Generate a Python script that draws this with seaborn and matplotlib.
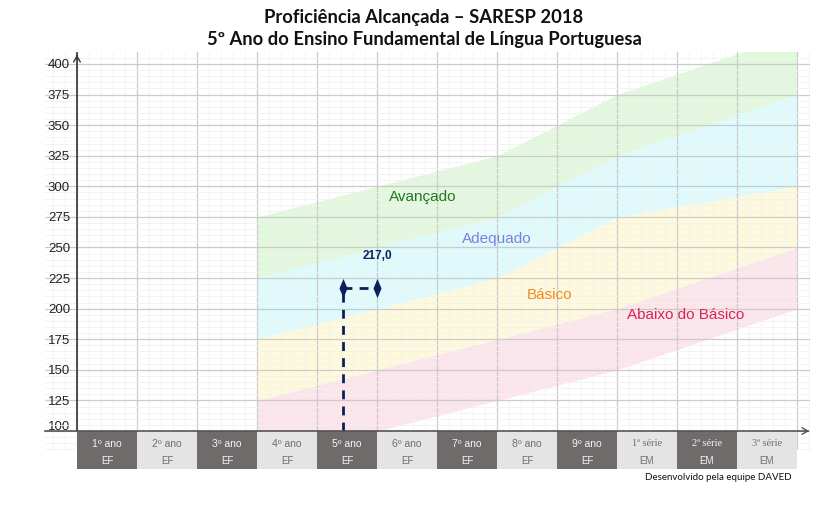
import matplotlib
matplotlib.use("Agg")
import matplotlib.pyplot as plt
import seaborn as sns
import numpy as np
import pandas as pd
from matplotlib.path import Path
from matplotlib.ticker import MultipleLocator
from matplotlib.transforms import ScaledTranslation

# ---------------- data ----------------
categories = ["1º ano", "2º ano", "3º ano", "4º ano", "5º ano", "6º ano",
              "7º ano", "8º ano", "9º ano", "1ª série", "2ª série", "3ª série"]
stages = ["EF"] * 9 + ["EM"] * 3
band_x = [3, 5, 7, 9, 12]
abaixo_min = [75, 100, 125, 150, 200]
basico_min = [125, 150, 175, 200, 250]
adequado_min = [175, 200, 225, 275, 300]
avancado_min = [225, 250, 275, 325, 375]
avancado_max = [275, 300, 325, 375, 425]
band_names = ["Abaixo do Básico", "Básico", "Adequado", "Avançado"]
score_value = 217.0
score_x = [4.43, 5.0]
y_ticks = list(range(100, 401, 25))
title_lines = ["Proficiência Alcançada – SARESP 2018",
               "5º Ano do Ensino Fundamental de Língua Portuguesa"]
footer = "Desenvolvido pela equipe DAVED"

# ---------------- style ----------------
sns.set_theme(style="white")
plt.rcParams["font.family"] = ["Liberation Sans", "DejaVu Sans"]

fig = plt.figure(figsize=(8.23, 5.05), dpi=100)
ax = fig.add_axes([45 / 823, 1 - 450 / 505, (810 - 45) / 823, (450 - 52) / 505])

ax.set_xlim(-0.533, 12.217)
ax.set_ylim(84.47, 409.8)

# grid
ax.xaxis.set_major_locator(MultipleLocator(1))
ax.xaxis.set_minor_locator(MultipleLocator(0.2))
ax.set_yticks(y_ticks)
ax.yaxis.set_minor_locator(MultipleLocator(5))
ax.grid(which="major", color="#cbcbcb", lw=0.9)
ax.grid(which="minor", color="#f1f1f1", lw=0.6)
ax.set_axisbelow("line")

# bands
band_colors = ["#fde3ea", "#fff9dc", "#ddfbfd", "#e1f8dc"]
lowers = [abaixo_min, basico_min, adequado_min, avancado_min]
uppers = [basico_min, adequado_min, avancado_min, avancado_max]
for lo, up, c in zip(lowers, uppers, band_colors):
    ax.fill_between(band_x, lo, up, color=c, lw=0, zorder=1)

# band labels
label_specs = [
    ("Avançado", 5.77, 291.5, "#1f7a1f"),
    ("Adequado", 7.0, 257.0, "#7b80e0"),
    ("Básico", 7.87, 211.2, "#f28a1c"),
    ("Abaixo do Básico", 10.15, 195.0, "#d6245a"),
]
for txt, lx, ly, c in label_specs:
    ax.text(lx, ly, txt, color=c, fontsize=11, ha="center", va="center", zorder=4)

# spines / axes
for s in ["top", "right"]:
    ax.spines[s].set_visible(False)
ax.spines["left"].set_position(("data", 0))
ax.spines["left"].set_bounds(100, 409.3)
ax.spines["left"].set_color("#333333")
ax.spines["left"].set_linewidth(1.2)
ax.spines["bottom"].set_position(("data", 100))
ax.spines["bottom"].set_bounds(-0.533, 12.18)
ax.spines["bottom"].set_color("#555555")
ax.spines["bottom"].set_linewidth(1.2)
ax.spines["left"].set_zorder(5)
ax.spines["bottom"].set_zorder(5)
ax.tick_params(axis="y", length=0, pad=5, labelsize=9.5, labelcolor="#222222")
ax.tick_params(axis="x", length=0, labelbottom=False)
ax.tick_params(which="minor", length=0)
# lift the "100" label above the baseline, as in the reference
t0 = ax.yaxis.get_major_ticks()[0]
t0.label1.set_transform(t0.label1.get_transform()
                        + ScaledTranslation(0, 6 / 100, fig.dpi_scale_trans))

ax.annotate("", xy=(0, 409.8), xytext=(0, 404), annotation_clip=False,
            arrowprops=dict(arrowstyle="->,head_length=0.35,head_width=0.2",
                            color="#333333", lw=1.0))
ax.annotate("", xy=(12.25, 100), xytext=(12.1, 100), annotation_clip=False,
            arrowprops=dict(arrowstyle="->,head_length=0.35,head_width=0.2",
                            color="#555555", lw=1.0))

# category boxes
n = len(categories)
xpos = np.arange(n) + 0.5
box_colors = ["#6f6b6b" if i % 2 == 0 else "#e4e4e4" for i in range(n)]
bars = ax.bar(xpos, height=-31.0, bottom=100, width=1.0, color=box_colors,
              linewidth=0, zorder=3)
for b in bars:
    b.set_clip_on(False)
for i, (cat, stg) in enumerate(zip(categories, stages)):
    tc = "#f4f4f4" if i % 2 == 0 else "#6e6e6e"
    fam = ["Liberation Serif"] if "série" in cat else ["Liberation Sans"]
    ax.text(xpos[i], 89.4, cat, ha="center", va="center", fontsize=7.5,
            color=tc, family=fam, zorder=4, clip_on=False)
    ax.text(xpos[i], 75.6, stg, ha="center", va="center", fontsize=7,
            color=tc, zorder=4, clip_on=False)

# score marker
navy = "#0c1f5c"
dash = (0, (3.2, 2.6))
ax.plot([score_x[0], score_x[0]], [100, score_value], color=navy, lw=2,
        ls=dash, zorder=4, clip_on=False)
ax.plot(score_x, [score_value, score_value], color=navy, lw=2, ls=dash, zorder=4)
diamond = Path([(0, 1), (0.42, 0), (0, -1), (-0.42, 0), (0, 1)],
               [Path.MOVETO, Path.LINETO, Path.LINETO, Path.LINETO, Path.CLOSEPOLY])
score_df = pd.DataFrame({"x": score_x, "y": [score_value] * len(score_x)})
sns.scatterplot(data=score_df, x="x", y="y", marker=diamond, s=190, color=navy,
                edgecolor=navy, linewidth=0, zorder=5, ax=ax, legend=False)
ax.annotate(f"{score_value:.1f}".replace(".", ","), xy=(score_x[1], score_value),
            xytext=(0, 23), textcoords="offset points", ha="center", va="center",
            fontsize=8.5, fontweight="bold", color=navy, zorder=6)
ax.set_xlabel("")
ax.set_ylabel("")

# titles and footer
fig.text(424 / 823, 1 - 17 / 505, title_lines[0], ha="center", va="center",
         fontsize=13.2, fontweight="bold", family=["Lato", "DejaVu Sans"], color="#111111")
fig.text(424 / 823, 1 - 40 / 505, title_lines[1], ha="center", va="center",
         fontsize=13.2, fontweight="bold", family=["Lato", "DejaVu Sans"], color="#111111")
fig.text(792 / 823, 1 - 477 / 505, footer, ha="right", va="center",
         fontsize=7, family=["Lato", "DejaVu Sans"], color="#111111")

fig.savefig("out.png", dpi=100)
